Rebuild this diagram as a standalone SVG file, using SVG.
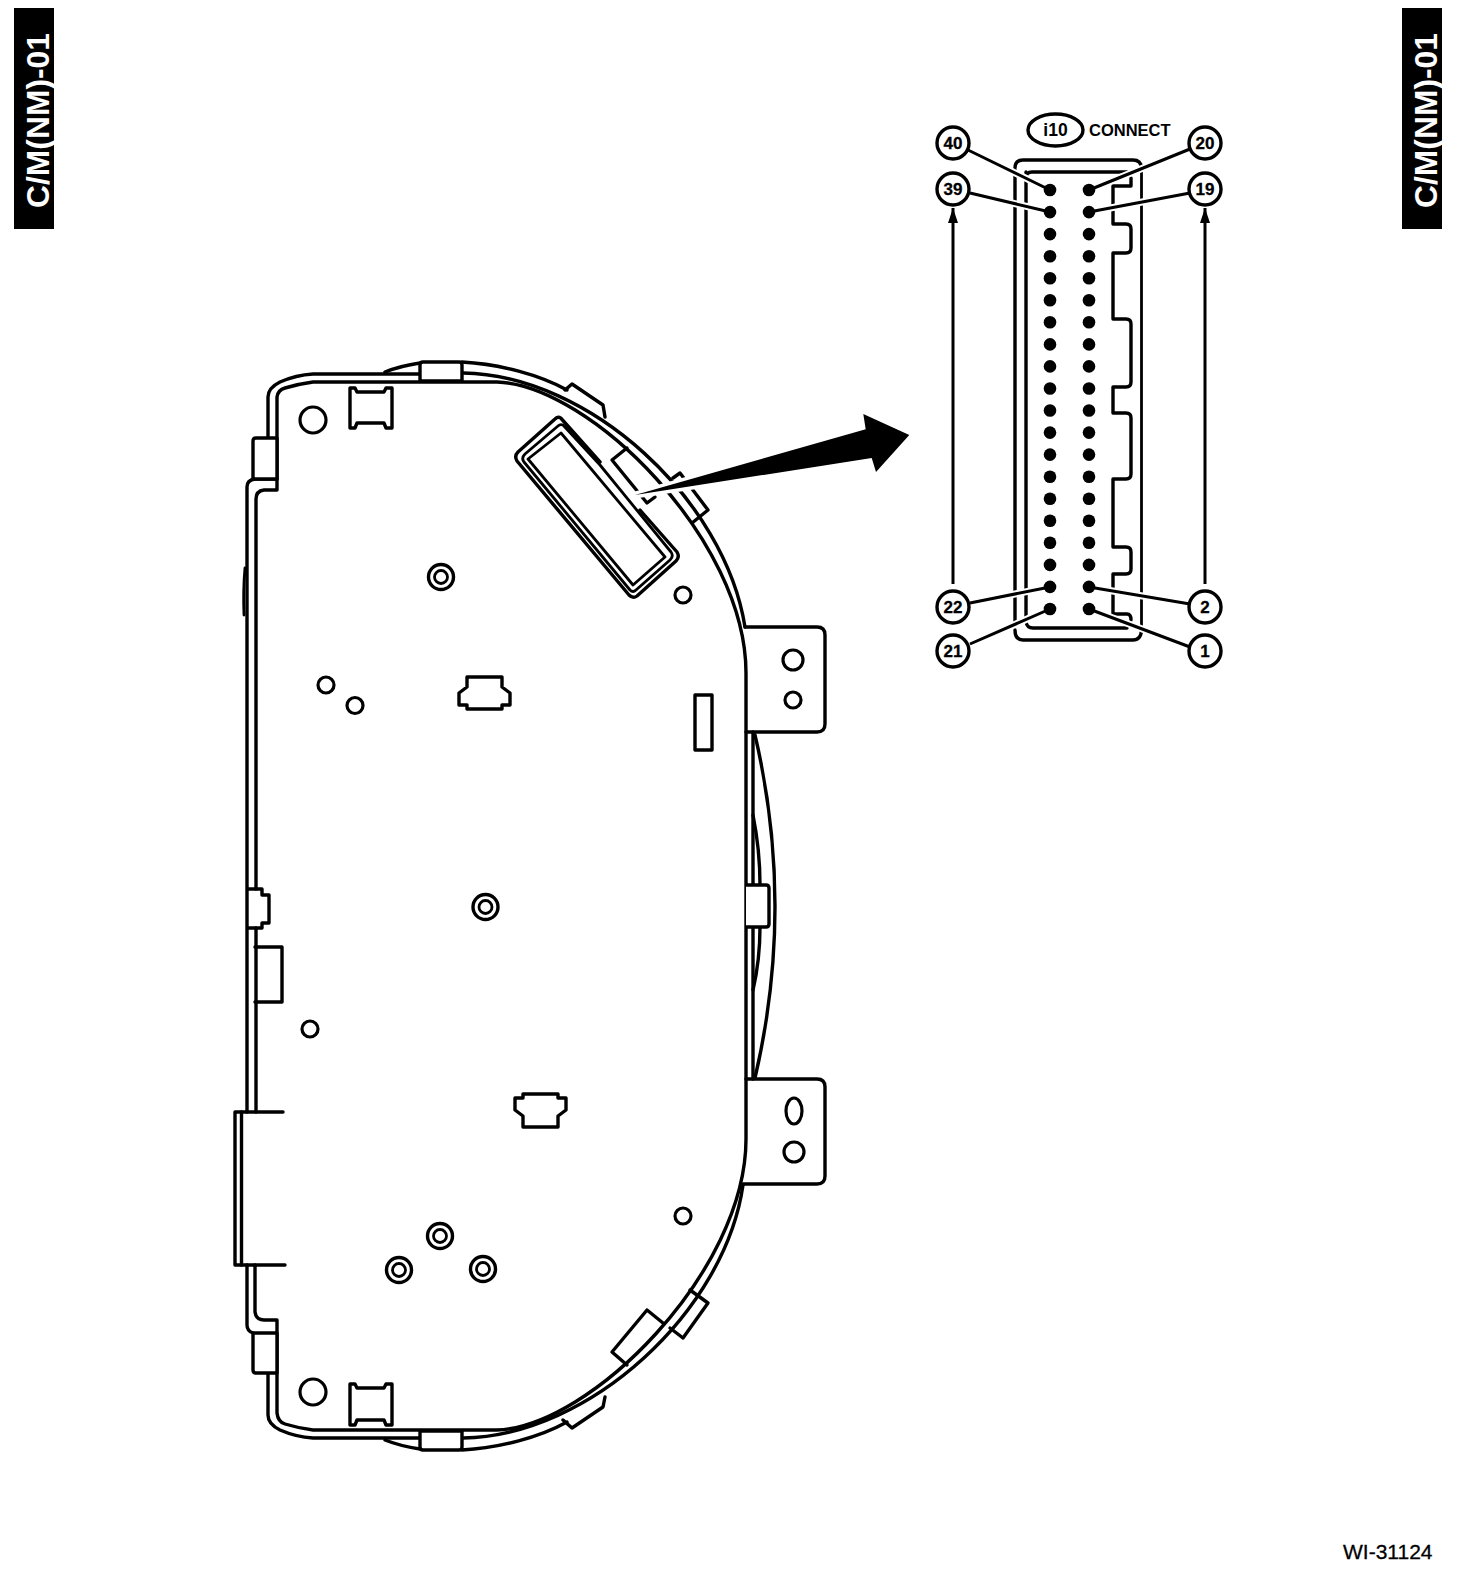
<svg xmlns="http://www.w3.org/2000/svg" width="1472" height="1596" viewBox="0 0 1472 1596">
<defs>
<style>
.l{fill:none;stroke:#000;stroke-width:3.4;stroke-linejoin:round;stroke-linecap:round}
.t{stroke-width:2.8}
.f{fill:#fff;stroke:#000;stroke-width:3.4;stroke-linejoin:round}
.r2{fill:none;stroke:#000;stroke-width:3.2}
.halo{fill:none;stroke:#fff;stroke-width:7}
.lead{fill:none;stroke:#000;stroke-width:3}
.pin{fill:#000}
.num{font-family:"Liberation Sans",Arial,sans-serif;font-weight:bold;font-size:17px;text-anchor:middle;fill:#000;stroke:#000;stroke-width:.3}
.tab{font-family:"Liberation Sans",Arial,sans-serif;font-weight:bold;font-size:32px;fill:#fff}
</style>
<marker id="ah" markerUnits="userSpaceOnUse" markerWidth="15" markerHeight="10" refX="15" refY="5" orient="auto" viewBox="0 0 15 10"><path d="M0 0L15 5L0 10Z" fill="#000"/></marker>
</defs>
<rect width="1472" height="1596" fill="#fff"/>

<g id="tab-left"><rect x="14" y="8" width="40" height="221" fill="#000"/><text class="tab" transform="translate(49,208) rotate(-90)" textLength="175" lengthAdjust="spacingAndGlyphs">C/M(NM)-01</text></g>
<g id="tab-right"><rect x="1402" y="8" width="40" height="221" fill="#000"/><text class="tab" transform="translate(1437,208) rotate(-90)" textLength="175" lengthAdjust="spacingAndGlyphs">C/M(NM)-01</text></g>

<g id="cluster-body">
<path class="l" d="M256 889V499Q256 491 264 490H277V397Q278 390 285 388Q298 384 313 382H497C590 385 746 540 746 673V1139C746 1272 590 1427 497 1430H313Q298 1428 285 1424Q278 1422 277 1413V1320H264Q256 1320 255 1312V1265"/>
<path class="l" d="M256 928V1112"/>
<path class="l" d="M247 1112V889M247 928H262V923H269V895H262V889H247V487Q247 480 255 479H277"/>
<path class="l" d="M268 438V397Q268 388 280 382Q296 375 313 374H420M463 373C590 375 725 500 745 627"/>
<path class="l" d="M268 1373V1415Q268 1424 280 1430Q296 1437 313 1438H420M463 1438C590 1436 725 1311 743 1185"/>
<path class="l" d="M385 372Q400 366 420 363M462 362C500 364 540 375 567 390"/>
<path class="l" d="M385 1440Q400 1446 420 1449M462 1450C500 1448 540 1437 567 1422"/>
<path class="f" d="M423 362H459Q462 362 462 365V381H420V365Q420 362 423 362Z"/>
<path class="f" d="M420 1431H462V1447Q462 1450 459 1450H423Q420 1450 420 1447Z"/>
<path class="f" d="M277 438H256Q253 438 253 441V479H277Z"/>
<path class="f" d="M277 1373H256Q253 1373 253 1370V1333H277Z"/>
<path class="l" d="M247 1265V1325Q247 1331 253 1333"/>
<path class="l" d="M565 390L572 384L603 405L605 417M563 1420L572 1428L603 1407L605 1397"/>
<path class="l" d="M745 627H817Q825 627 825 635V724Q825 732 817 732H746"/>
<path class="l" d="M746 1079H817Q825 1079 825 1087V1176Q825 1184 817 1184H743"/>
<path class="l" d="M753 732V1079"/>
<path class="l" d="M755 735Q795 906 755 1078"/>
<path class="l" d="M753 815Q760 850 760 885M760 927Q760 960 753 990"/>
<path class="f" d="M746 885H766Q769 885 769 888V924Q769 927 766 927H746"/>
<path class="l" d="M255 947H282V1002H255"/>
<path class="l" d="M283 1112H235V1265H285"/>
<path class="l" d="M241.500 1112V1265"/>
<path class="l t" d="M245 568Q243 590 244 615"/>
<path class="l" d="M350 388H355L357 392H384L386 388H392V428H386L384 423H357L355 428H350Z"/>
<path class="l" d="M350 1384H355L357 1388H384L386 1384H392V1425H386L384 1420H357L355 1425H350Z"/>
<circle class="r2" cx="313" cy="420" r="13"/>
<circle class="r2" cx="313" cy="1392" r="13"/>
<path class="l" d="M695 695H712V750H695Z"/>
<circle class="r2" cx="793" cy="660" r="10"/>
<circle class="r2" cx="793" cy="700" r="8"/>
<ellipse class="r2" cx="794" cy="1111" rx="8" ry="13"/>
<circle class="r2" cx="794" cy="1152" r="10"/>
<g id="bosses">
<g id="boss-1"><circle class="l" cx="441" cy="577" r="12.500"/><circle class="l t" cx="441" cy="577" r="6.500"/></g>
<g id="boss-2"><circle class="l" cx="485.500" cy="907" r="12.500"/><circle class="l t" cx="485.500" cy="907" r="6.500"/></g>
<g id="boss-3"><circle class="l" cx="440" cy="1236" r="12.500"/><circle class="l t" cx="440" cy="1236" r="6.500"/></g>
<g id="boss-4"><circle class="l" cx="399" cy="1270" r="12.500"/><circle class="l t" cx="399" cy="1270" r="6.500"/></g>
<g id="boss-5"><circle class="l" cx="483" cy="1269" r="12.500"/><circle class="l t" cx="483" cy="1269" r="6.500"/></g>
</g>
<circle class="r2" cx="326" cy="685" r="8"/>
<circle class="r2" cx="355" cy="705.500" r="8"/>
<circle class="r2" cx="310" cy="1029" r="8"/>
<circle class="r2" cx="683" cy="595" r="8"/>
<circle class="r2" cx="683" cy="1216" r="8"/>
<path class="l" d="M467 677H502V687L510 693V705H502V709H467V705H459V693L467 687Z"/>
<path class="l" d="M523 1094H558V1098H566V1110L558 1116V1127H523V1116L515 1110V1098H523Z"/>
<path class="l" d="M690 1290L708 1303L683 1338L670 1328M647 1310L612 1352L627 1365M647 1310L663 1323"/>
<path class="l" d="M673 478L680 473L708 510L692 523"/>
<path class="l" d="M627 448L612 460L647 503L655 497"/>
<path class="l" d="M600 462L560.700 418Q558 416 555 419L518 452Q514 456 517 461L629 595Q633 599 637 596L676 561Q680 557 677 552L640 510"/>
<path class="l t" d="M600 465L563 425Q560 424 558 426L525 454Q521 458 524 462L630 590Q633 593 636 590L670 560Q674 556 671 552L600 465"/>
<path class="l t" d="M561 433L665 557L633 585L528 459Z"/>
</g>

<g id="callout-arrow"><path d="M635 495L865.700 429.300L863.300 414L909.300 435L876 472L871.700 458Z" fill="#000" stroke="#fff" stroke-width="7" stroke-linejoin="round" paint-order="stroke"/></g>

<g id="connector-outline">
<path class="l" d="M1015 168Q1015 160 1023 160H1133Q1141 160 1141.500 168"/>
<path class="l" d="M1015 170V622M1015 630Q1015 640 1023 640H1133Q1141 640 1141.500 630"/>
<path class="l t" d="M1141.500 168V630"/>
<path class="l" d="M1026 172V622Q1027 628 1033 628H1127M1026 178Q1026 172 1032 172H1127"/>
<path class="l" d="M1131 178V186H1113V224H1126Q1131 224 1131 229V248Q1131 253 1126 253H1113V319H1126Q1131 319 1131 324V382Q1131 387 1126 387H1113V413H1126Q1131 413 1131 418V474Q1131 479 1126 479H1113V547H1126Q1131 547 1131 552V569Q1131 574 1126 574H1113V614H1127Q1131 614 1131 620"/>
</g>

<g id="i10-label">
<ellipse cx="1055.500" cy="130" rx="27.500" ry="16" fill="none" stroke="#000" stroke-width="3.400"/>
<text x="1055.500" y="136" font-family="'Liberation Sans',Arial,sans-serif" font-weight="bold" font-size="17.500" text-anchor="middle">i10</text>
<text x="1089" y="136" font-family="'Liberation Sans',Arial,sans-serif" font-weight="bold" font-size="16.500">CONNECT</text>
</g>

<g id="connectors">
<path class="halo" d="M968 150L1050 190M970 193L1050 212M1089 190L1190 149M1089 212L1190 193M970 603L1050 587M970 644L1050 609M1089 587L1190 604M1089 609L1190 647"/>
<path class="lead" d="M968 150L1050 190M970 193L1050 212M1089 190L1190 149M1089 212L1190 193M970 603L1050 587M970 644L1050 609M1089 587L1190 604M1089 609L1190 647"/>
<path class="lead" marker-end="url(#ah)" d="M953 584V208"/>
<path class="lead" marker-end="url(#ah)" d="M1205 584V208"/>
</g>

<g id="pins">
<circle class="pin" cx="1050" cy="190" r="6.300"/><circle class="pin" cx="1050" cy="212.100" r="6.300"/><circle class="pin" cx="1050" cy="234.100" r="6.300"/><circle class="pin" cx="1050" cy="256.200" r="6.300"/><circle class="pin" cx="1050" cy="278.200" r="6.300"/><circle class="pin" cx="1050" cy="300.300" r="6.300"/><circle class="pin" cx="1050" cy="322.300" r="6.300"/><circle class="pin" cx="1050" cy="344.400" r="6.300"/><circle class="pin" cx="1050" cy="366.400" r="6.300"/><circle class="pin" cx="1050" cy="388.500" r="6.300"/><circle class="pin" cx="1050" cy="410.500" r="6.300"/><circle class="pin" cx="1050" cy="432.600" r="6.300"/><circle class="pin" cx="1050" cy="454.600" r="6.300"/><circle class="pin" cx="1050" cy="476.700" r="6.300"/><circle class="pin" cx="1050" cy="498.700" r="6.300"/><circle class="pin" cx="1050" cy="520.800" r="6.300"/><circle class="pin" cx="1050" cy="542.800" r="6.300"/><circle class="pin" cx="1050" cy="564.900" r="6.300"/><circle class="pin" cx="1050" cy="586.900" r="6.300"/><circle class="pin" cx="1050" cy="609" r="6.300"/>
<circle class="pin" cx="1089" cy="190" r="6.300"/><circle class="pin" cx="1089" cy="212.100" r="6.300"/><circle class="pin" cx="1089" cy="234.100" r="6.300"/><circle class="pin" cx="1089" cy="256.200" r="6.300"/><circle class="pin" cx="1089" cy="278.200" r="6.300"/><circle class="pin" cx="1089" cy="300.300" r="6.300"/><circle class="pin" cx="1089" cy="322.300" r="6.300"/><circle class="pin" cx="1089" cy="344.400" r="6.300"/><circle class="pin" cx="1089" cy="366.400" r="6.300"/><circle class="pin" cx="1089" cy="388.500" r="6.300"/><circle class="pin" cx="1089" cy="410.500" r="6.300"/><circle class="pin" cx="1089" cy="432.600" r="6.300"/><circle class="pin" cx="1089" cy="454.600" r="6.300"/><circle class="pin" cx="1089" cy="476.700" r="6.300"/><circle class="pin" cx="1089" cy="498.700" r="6.300"/><circle class="pin" cx="1089" cy="520.800" r="6.300"/><circle class="pin" cx="1089" cy="542.800" r="6.300"/><circle class="pin" cx="1089" cy="564.900" r="6.300"/><circle class="pin" cx="1089" cy="586.900" r="6.300"/><circle class="pin" cx="1089" cy="609" r="6.300"/>
</g>

<g id="pin-40"><circle class="f" cx="953" cy="143" r="16"/><text class="num" x="953" y="149">40</text></g>
<g id="pin-39"><circle class="f" cx="953" cy="189" r="16"/><text class="num" x="953" y="195">39</text></g>
<g id="pin-22"><circle class="f" cx="953" cy="607" r="16"/><text class="num" x="953" y="613">22</text></g>
<g id="pin-21"><circle class="f" cx="953" cy="651" r="16"/><text class="num" x="953" y="657">21</text></g>
<g id="pin-20"><circle class="f" cx="1205" cy="143" r="16"/><text class="num" x="1205" y="149">20</text></g>
<g id="pin-19"><circle class="f" cx="1205" cy="189" r="16"/><text class="num" x="1205" y="195">19</text></g>
<g id="pin-2"><circle class="f" cx="1205" cy="607" r="16"/><text class="num" x="1205" y="613">2</text></g>
<g id="pin-1"><circle class="f" cx="1205" cy="651" r="16"/><text class="num" x="1205" y="657">1</text></g>

<text id="figure-code" x="1343" y="1559" font-family="'Liberation Sans',Arial,sans-serif" font-size="21" stroke="#000" stroke-width=".3">WI-31124</text>
</svg>
